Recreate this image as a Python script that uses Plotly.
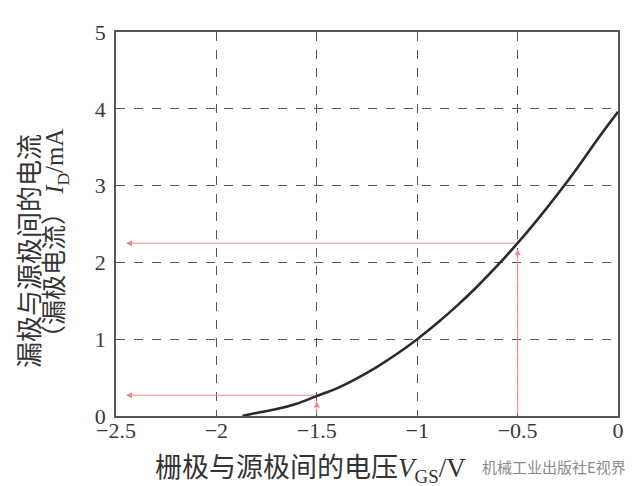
import plotly.graph_objects as go

# Transfer characteristic curve
vgs = [-1.87, -1.8, -1.7, -1.6, -1.5, -1.4, -1.3, -1.2, -1.1, -1.0,
       -0.9, -0.8, -0.7, -0.6, -0.5, -0.4, -0.3, -0.2, -0.1, 0.0]
id_ma = [0.0, 0.04, 0.09, 0.16, 0.26, 0.36, 0.49, 0.64, 0.81, 1.0,
         1.21, 1.44, 1.69, 1.96, 2.25, 2.56, 2.89, 3.24, 3.61, 3.96]

# Operating points marked with arrows
op_vgs = [-1.5, -0.5]
op_id = [0.27, 2.25]
arrow_end_x = -2.45

x_ticks = [-2.5, -2.0, -1.5, -1.0, -0.5, 0.0]
x_ticktext = ["−2.5", "−2", "−1.5", "−1", "−0.5", "0"]
y_ticks = [0, 1, 2, 3, 4, 5]
y_ticktext = ["0", "1", "2", "3", "4", "5"]

SERIF = "Liberation Serif"
CJK = "Noto Sans CJK SC"


def serif(t):
    return '<span style="font-family:Liberation Serif">' + t + '</span>'


x_title = "栅极与源极间的电压" + serif("<i>V</i><sub>GS</sub>/V")
y_title_1 = "漏极与源极间的电流"
y_title_2 = "（漏极电流）" + serif(" <i>I</i><sub>D</sub>/mA")
watermark = "机械工业出版社E视界"

red = "#ef8a85"

fig = go.Figure()
fig.add_trace(go.Scatter(x=vgs, y=id_ma, mode="lines",
                         line=dict(color="#2b2b2b", width=2.6, shape="spline"),
                         showlegend=False, hoverinfo="skip"))

annotations = []
for vx, iy in zip(op_vgs, op_id):
    annotations.append(dict(x=vx, y=iy - 0.08, ax=vx, ay=0, xref="x", yref="y",
                            axref="x", ayref="y", showarrow=True, text="",
                            arrowhead=2, arrowsize=1.2, arrowwidth=1, arrowcolor=red))
    annotations.append(dict(x=arrow_end_x, y=iy, ax=vx, ay=iy, xref="x", yref="y",
                            axref="x", ayref="y", showarrow=True, text="",
                            arrowhead=2, arrowsize=1.2, arrowwidth=1, arrowcolor=red))

annotations.append(dict(text=x_title, xref="paper", yref="paper", x=0.074, y=-0.132,
                        xanchor="left", yanchor="middle", showarrow=False,
                        font=dict(family=CJK, size=27, color="#333333")))
annotations.append(dict(text=y_title_1, xref="paper", yref="paper", x=-0.175, y=0.43,
                        xanchor="center", yanchor="middle", showarrow=False, textangle=-90,
                        font=dict(family=CJK, size=26, color="#333333")))
annotations.append(dict(text=y_title_2, xref="paper", yref="paper", x=-0.124, y=0.46,
                        xanchor="center", yanchor="middle", showarrow=False, textangle=-90,
                        font=dict(family=CJK, size=25, color="#333333")))
annotations.append(dict(text=watermark, xref="paper", yref="paper", x=1.02, y=-0.132,
                        xanchor="right", yanchor="middle", showarrow=False,
                        font=dict(family=CJK, size=15, color="#8a8a8a")))

fig.update_layout(
    width=640, height=486,
    margin=dict(l=108, r=30, t=19, b=78),
    paper_bgcolor="white", plot_bgcolor="white",
    annotations=annotations,
    xaxis=dict(range=[-2.5, 0], tickvals=x_ticks, ticktext=[serif(t) for t in x_ticktext],
               showgrid=True, gridcolor="#555555", griddash="dash", gridwidth=1,
               showline=True, linecolor="#555555", linewidth=1.5, mirror=True,
               zeroline=False, ticks="",
               tickfont=dict(family=SERIF, size=22, color="#3a3a3a")),
    yaxis=dict(range=[0, 5], tickvals=y_ticks, ticktext=[serif(t) for t in y_ticktext],
               showgrid=True, gridcolor="#555555", griddash="dash", gridwidth=1,
               showline=True, linecolor="#555555", linewidth=1.5, mirror=True,
               zeroline=False, ticks="",
               tickfont=dict(family=SERIF, size=22, color="#3a3a3a")),
)

try:
    fig.update_xaxes(ticklabelstandoff=-6)
except Exception:
    pass
try:
    fig.update_yaxes(ticklabelstandoff=4)
except Exception:
    pass

fig.write_html("out.html")
